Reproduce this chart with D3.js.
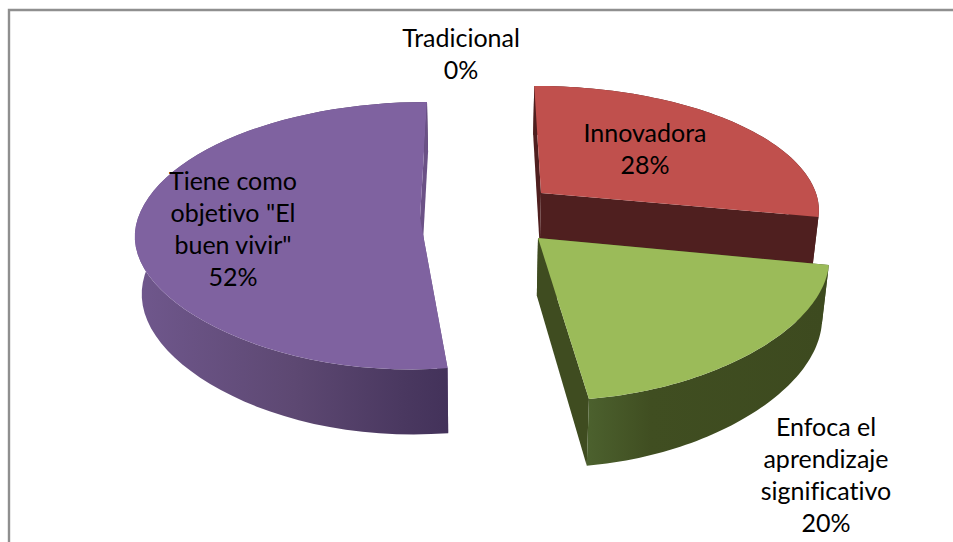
<!DOCTYPE html>
<html><head><meta charset="utf-8">
<script src="https://cdn.jsdelivr.net/npm/d3@7/dist/d3.min.js"></script>
<style>html,body{margin:0;padding:0;background:#fff;overflow:hidden}svg{display:block}</style>
</head><body><svg id="c" width="953" height="542"></svg>
<script>
// ---- data
const categories = ["Tradicional", "Innovadora", "Enfoca el aprendizaje significativo", 'Tiene como objetivo "El buen vivir"'];
const values = [0, 28, 20, 52];
const labelLines = [["Tradicional"], ["Innovadora"], ["Enfoca el", "aprendizaje", "significativo"], ["Tiene como", 'objetivo "El', 'buen vivir"']];

// ---- styling / layout
const topColors = ["#4f81bd", "#c0504d", "#9bbb59", "#7f62a0"];
const radialColors = ["#2a4a70", "#4f1f1f", "#3f4c20", "#6b5186"];
const apexes = [[480, 200], [541, 193], [538, 238], [420, 218]];
const backDepthScale = [1, 0.965, 1, 1];
const frontDepthScale = [1, 1, 1.025, 1];
const startNudge = [0, 0, 0, 0.0125];
const labelAnchors = [[461, 38], [645, 133], [826, 427], [233, 181]];
const drawOrder = [1, 3, 2];
const lineGap = 32.2;

const svg = d3.select("#c");
const W = 953, H = 542;
const CX = 480, CY = 218, K = 131.35, P = 0.1323, RW = 282, DEPTH = 56.5, VANISH = 0.02, FRONT_FLAT = 0.02;

// scales: plane units -> screen
const xOff = d3.scaleLinear().domain([0, 1]).range([0, RW]);
const persp = Y => 1 / (1 - P * Y);
const invY = sy => { const d = sy - CY; return d / (K + P * d); };

const pie = d3.pie().sort(null).value(d => d).startAngle(0).endAngle(2 * Math.PI);
const arcs = pie(values);

function worldApex(i) {
  const [ax, ay] = apexes[i];
  const Y = invY(ay);
  return { X: (ax - CX) / persp(Y) / RW, Y, ys: backDepthScale[i], yf: frontDepthScale[i] };
}
function project(a, r, th, z) {
  const c = Math.cos(th), s2 = Math.sin(2 * th);
  const rr = r * (c < 0 ? 1 - FRONT_FLAT * s2 * s2 : 1);
  const X = a.X + rr * Math.sin(th), Y = a.Y - rr * c * (c > 0 ? a.ys : a.yf), s = persp(Y);
  const shrink = 1 - VANISH * z;
  return [CX + xOff(X) * s * shrink, CY + K * Y * s + DEPTH * z * s];
}
const line = d3.line();
const samples = (a, b) => d3.range(0, 61).map(i => a + (b - a) * i / 60);

const defs = svg.append("defs");
function grad(id, stops, x1, x2) {
  const g = defs.append("linearGradient").attr("id", id).attr("gradientUnits", "userSpaceOnUse")
    .attr("x1", x1).attr("x2", x2).attr("y1", 0).attr("y2", 0);
  stops.forEach(([o, c]) => g.append("stop").attr("offset", o).attr("stop-color", c));
}
grad("g1", [[0, "#4f1f1f"], [1, "#4f1f1f"]], 500, 830);
grad("g2", [[0, "#4c612e"], [0.27, "#404e21"], [1, "#3d4a1f"]], 587, 825);
grad("g3", [[0, "#6f578c"], [0.5, "#5d4872"], [0.85, "#4a3860"], [1, "#43325a"]], 140, 449);

// frame
svg.append("path").attr("d", line([[W, 10], [9, 10], [9, H]])).attr("fill", "none")
  .attr("stroke", "#8f8f8f").attr("stroke-width", 2.4);

drawOrder.forEach(i => {
  const d = arcs[i], a = worldApex(i), g = svg.append("g");
  const start = d.startAngle + startNudge[i];
  const th = samples(start, d.endAngle);
  const wall = t => line([project(a, 0, 0, 0), project(a, 1, t, 0), project(a, 1, t, 1), project(a, 0, 0, 1)]) + "Z";
  const edges = [start, d.endAngle];
  edges.filter(t => Math.cos(t) < 0).forEach(t => g.append("path").attr("d", wall(t)).attr("fill", radialColors[i]));
  const outer = th.map(t => project(a, 1, t, 0)).concat(th.slice().reverse().map(t => project(a, 1, t, 1)));
  g.append("path").attr("d", line(outer) + "Z").attr("fill", `url(#g${i})`);
  edges.filter(t => Math.cos(t) >= 0).forEach(t => g.append("path").attr("d", wall(t)).attr("fill", radialColors[i]));
  const top = [project(a, 0, 0, 0)].concat(th.map(t => project(a, 1, t, 0)));
  g.append("path").attr("d", line(top) + "Z").attr("fill", topColors[i]);
});

// labels
const pct = d3.format(".0%"), total = d3.sum(values);
categories.forEach((c, i) => {
  const lines = labelLines[i].concat(pct(values[i] / total));
  const t = svg.append("text").attr("text-anchor", "middle").attr("fill", "#000")
    .attr("font-family", "Lato, 'Open Sans', sans-serif").attr("font-size", 25)
    .style("font-variant-ligatures", "none");
  lines.forEach((l, j) => t.append("tspan").attr("x", labelAnchors[i][0])
    .attr("y", labelAnchors[i][1] + j * lineGap).attr("dy", "0.35em").text(l));
});
</script></body></html>
